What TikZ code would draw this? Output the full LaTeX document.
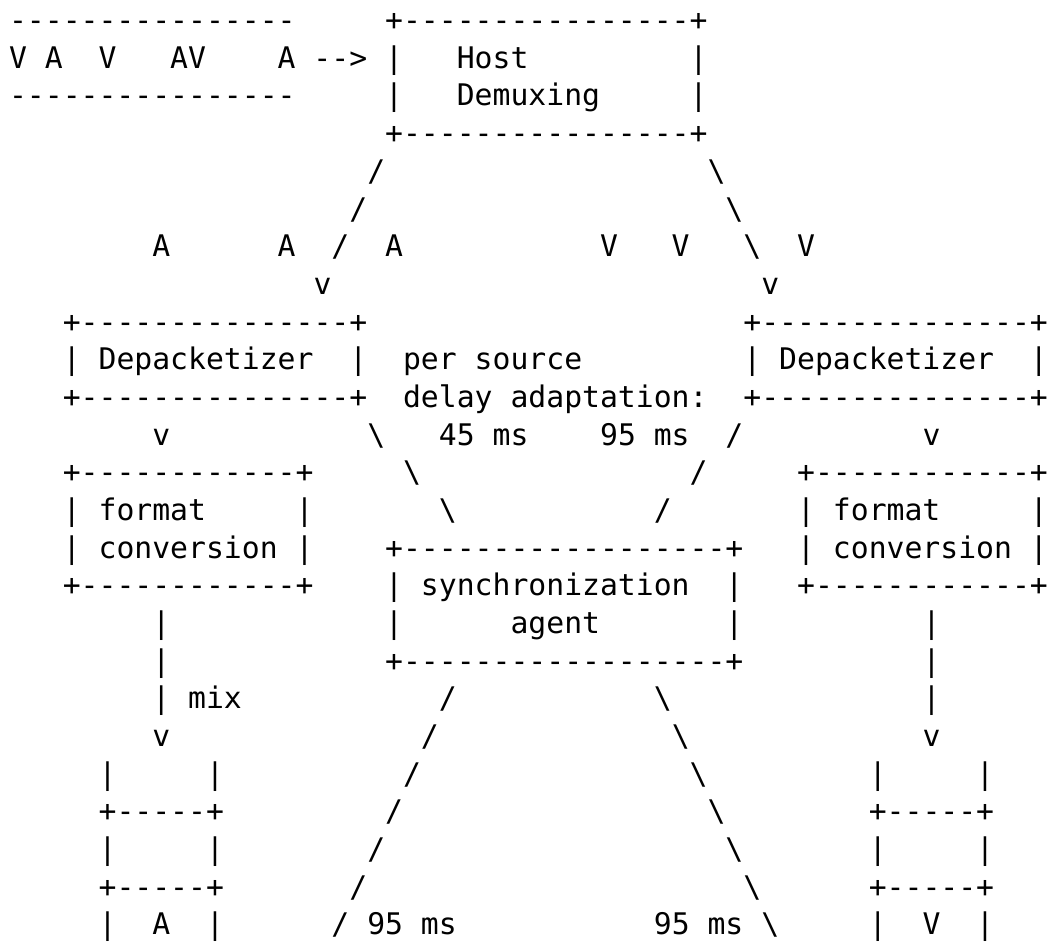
\documentclass[tikz,border=0pt]{standalone}
\usepackage{fontspec}
\setmonofont{DejaVu Sans Mono}
\newcommand{\bsl}{\textbackslash}

\begin{document}
\begin{tikzpicture}[x=8.955pt, y=-18.84pt,
    txt/.style={font=\ttfamily\fontsize{14.874pt}{18.84pt}\selectfont,
      inner sep=0pt, outer sep=0pt, anchor=base west}]
  \path[use as bounding box, fill=white] (-0.505,0.188) rectangle (58.23,25.188);

  % Stream and host
  \node[txt] (sTop) at (0,1) {----------------};
  \node[txt] (sIn) at (0,2) {V~A~~V~~~AV~~~~A~-->};
  \node[txt] (sBot) at (0,3) {----------------};
  \node[txt] (hostT) at (21,1) {+----------------+};
  \node[txt] (host) at (21,2) {|~~~Host~~~~~~~~~|};
  \node[txt] (hostM) at (21,3) {|~~~Demuxing~~~~~|};
  \node[txt] (hostB) at (21,4) {+----------------+};

  % Split into A and V
  \foreach \col/\row in {20/5,19/6,18/7} \node[txt] (hdL\row) at (\col,\row) {/};
  \foreach \col/\row in {39/5,40/6,41/7} \node[txt] (hdR\row) at (\col,\row) {\bsl};
  \node[txt] (aL) at (8,7) {A~~~~~~A};
  \node[txt] (aR) at (21,7) {A};
  \node[txt] (vL) at (33,7) {V~~~V};
  \node[txt] (vR) at (44,7) {V};
  \node[txt] (inL) at (17,8) {v};
  \node[txt] (inR) at (42,8) {v};

  % Depacketizers
  \foreach \col/\n in {3/L,41/R}{
    \node[txt] (depT\n) at (\col,9) {+---------------+};
    \node[txt] (dep\n) at (\col,10) {|~Depacketizer~~|};
    \node[txt] (depB\n) at (\col,11) {+---------------+};
  }
  \node[txt] (note) at (22,10) {per~source};
  \node[txt] (noteB) at (22,11) {delay~adaptation:};
  \node[txt] (dL) at (8,12) {v};
  \node[txt] (dR) at (51,12) {v};
  \node[txt] (msA) at (24,12) {45~ms};
  \node[txt] (msV) at (33,12) {95~ms};
  \foreach \col/\row in {20/12,22/13,24/14} \node[txt] (adL\row) at (\col,\row) {\bsl};
  \foreach \col/\row in {40/12,38/13,36/14} \node[txt] (adR\row) at (\col,\row) {/};

  % Format conversion
  \foreach \col/\n in {3/L,44/R}{
    \node[txt] (fmtT\n) at (\col,13) {+------------+};
    \node[txt] (fmt\n) at (\col,14) {|~format~~~~~|};
    \node[txt] (fmtM\n) at (\col,15) {|~conversion~|};
    \node[txt] (fmtB\n) at (\col,16) {+------------+};
  }

  % Synchronization agent
  \node[txt] (syncT) at (21,15) {+------------------+};
  \node[txt] (sync) at (21,16) {|~synchronization~~|};
  \node[txt] (syncM) at (21,17) {|~~~~~~agent~~~~~~~|};
  \node[txt] (syncB) at (21,18) {+------------------+};

  % Down to the outputs
  \foreach \row in {17,18} \node[txt] (mxL\row) at (8,\row) {|};
  \node[txt] (mix) at (8,19) {|~mix};
  \foreach \row in {17,18,19} \node[txt] (mxR\row) at (51,\row) {|};
  \node[txt] (oL) at (8,20) {v};
  \node[txt] (oR) at (51,20) {v};
  \foreach \col/\row in {24/19,23/20,22/21,21/22,20/23,19/24,18/25}
    \node[txt] (sbL\row) at (\col,\row) {/};
  \foreach \col/\row in {36/19,37/20,38/21,39/22,40/23,41/24,42/25}
    \node[txt] (sbR\row) at (\col,\row) {\bsl};
  \node[txt] (msL) at (20,25) {95~ms};
  \node[txt] (msR) at (36,25) {95~ms};

  % Output buffers
  \foreach \col/\n/\m in {5/L/A,48/R/V}{
    \node[txt] (buf\n) at (\col,21) {|~~~~~|};
    \node[txt] (bufA\n) at (\col,22) {+-----+};
    \node[txt] (bufB\n) at (\col,23) {|~~~~~|};
    \node[txt] (bufC\n) at (\col,24) {+-----+};
    \node[txt] (out\n) at (\col,25) {|~~\m~~|};
  }
\end{tikzpicture}
\end{document}
